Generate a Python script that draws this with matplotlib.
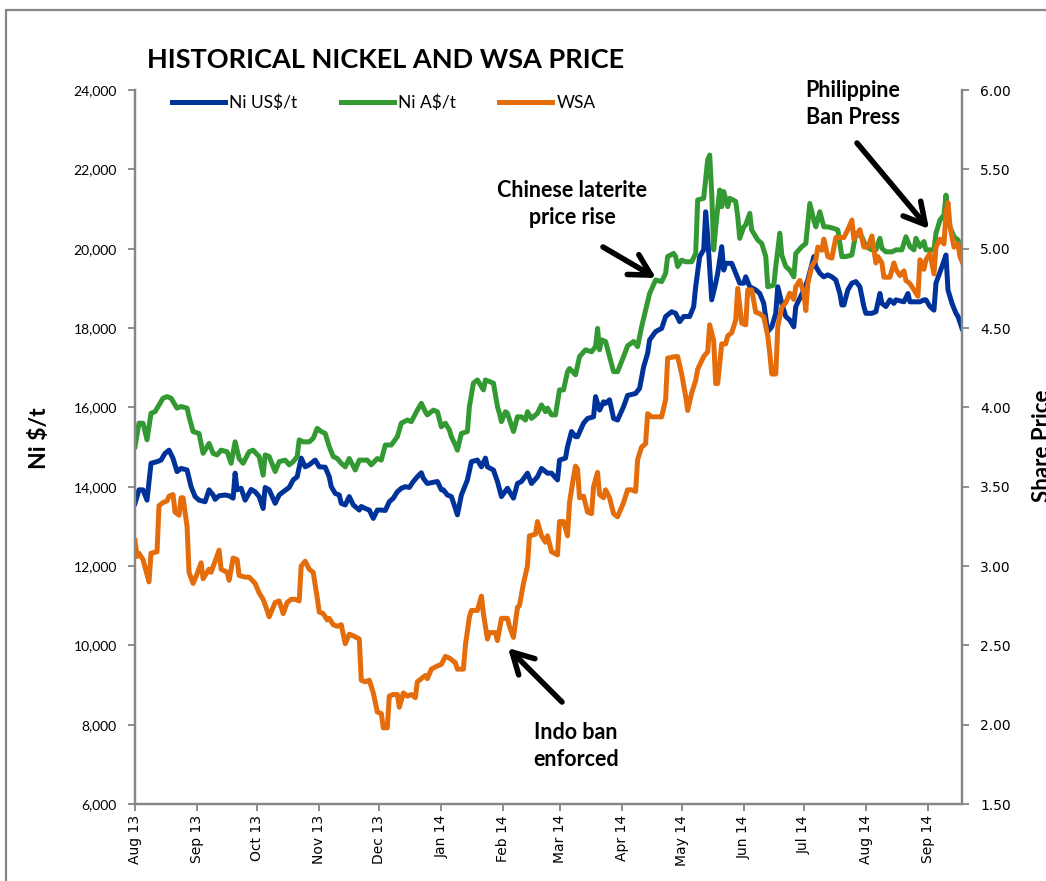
import matplotlib
matplotlib.use('Agg')
import matplotlib.pyplot as plt
import matplotlib.dates as mdates
import matplotlib.ticker as mticker
from matplotlib.patches import Rectangle
import numpy as np

start = np.datetime64('2013-08-01')

# Ni US$/t  (days since 1 Aug 2013, price)
usd_days = [0, 2, 4, 6, 8, 11, 13, 15, 17, 19, 21, 23, 26, 28, 30, 32, 35, 37, 39, 40,
            42, 45, 47, 49, 50, 51, 53, 55, 58, 60, 62, 64, 65, 67, 70, 72, 74, 77, 79, 81,
            83, 85, 87, 90, 92, 95, 97, 98, 100, 102, 103, 105, 107, 109, 112, 113, 115, 117, 119, 121,
            123, 125, 127, 129, 131, 133, 135, 137, 139, 141, 143, 144, 146, 148, 151, 153, 154, 156, 158, 160,
            161, 163, 166, 168, 171, 173, 175, 176, 179, 181, 183, 186, 189, 191, 193, 196, 198, 201, 203, 206,
            208, 211, 212, 215, 216, 218, 220, 221, 224, 226, 229, 230, 232, 234, 235, 237, 239, 241, 244, 246,
            250, 252, 254, 256, 257, 260, 263, 265, 268, 270, 272, 274, 277, 279, 280, 282, 284, 285, 286, 288,
            290, 291, 293, 294, 295, 298, 300, 302, 304, 305, 307, 310, 312, 314, 316, 318, 320, 321, 323, 325,
            327, 329, 330, 334, 336, 339, 340, 342, 344, 346, 348, 350, 352, 353, 354, 356, 358, 360, 362, 364,
            365, 368, 370, 372, 373, 375, 377, 379, 380, 384, 386, 387, 389, 392, 394, 395, 397, 399, 400, 403,
            405, 406, 408, 410, 411, 413]
usd_vals = [13580, 13920, 13920, 13660, 14590, 14630, 14670, 14840, 14920, 14710, 14380, 14460, 14420, 14000, 13750, 13660, 13620, 13920, 13790, 13680,
            13770, 13790, 13770, 13710, 14340, 13920, 13960, 13660, 13930, 13870, 13750, 13450, 13980, 13920, 13580, 13790, 13870, 13980, 14170, 14250,
            14720, 14500, 14550, 14670, 14500, 14490, 14250, 14000, 13830, 13790, 13580, 13540, 13750, 13540, 13410, 13500, 13450, 13410, 13200, 13410,
            13410, 13400, 13620, 13710, 13870, 13960, 14000, 13980, 14130, 14250, 14350, 14210, 14080, 14100, 14130, 13920, 13920, 13790, 13750, 13450,
            13290, 13790, 14170, 14630, 14670, 14500, 14720, 14500, 14420, 14130, 13750, 13960, 13710, 14080, 14130, 14340, 14080, 14250, 14460, 14340,
            14340, 14170, 14670, 14720, 15010, 15390, 15260, 15260, 15600, 15720, 15760, 16270, 15930, 16140, 16100, 16190, 15720, 15680, 16020, 16300,
            16350, 16480, 17020, 17360, 17700, 17910, 17990, 18290, 18410, 18370, 18160, 18290, 18290, 18540, 19040, 19800, 19970, 20930, 20300, 18710,
            19130, 19380, 20050, 19460, 19630, 19630, 19380, 19130, 19130, 19290, 19040, 18960, 18870, 18620, 17910, 18030, 18370, 19040, 18620, 18290,
            18200, 18030, 18540, 18960, 19210, 19800, 19550, 19380, 19290, 19340, 19290, 19210, 18870, 18580, 18580, 18960, 19130, 19170, 19040, 18540,
            18370, 18370, 18410, 18870, 18620, 18540, 18710, 18620, 18710, 18660, 18870, 18660, 18660, 18660, 18710, 18710, 18540, 18450, 19130, 19550,
            19840, 18960, 18620, 18370, 18290, 17990]

# Ni A$/t
aud_days = [0, 2, 4, 6, 8, 10, 12, 14, 16, 18, 21, 23, 26, 27, 29, 32, 34, 37, 39, 41,
            43, 46, 48, 50, 52, 54, 57, 59, 62, 64, 65, 67, 70, 72, 75, 77, 79, 81, 82, 84,
            87, 89, 91, 93, 95, 97, 99, 101, 103, 105, 107, 110, 112, 116, 118, 121, 123, 125, 128, 131,
            133, 136, 138, 141, 143, 145, 146, 149, 151, 153, 155, 157, 158, 160, 161, 163, 166, 167, 169, 171,
            174, 175, 177, 179, 181, 182, 183, 185, 186, 189, 191, 193, 195, 196, 198, 201, 203, 205, 206, 208,
            210, 212, 214, 216, 217, 220, 222, 225, 228, 230, 231, 232, 233, 235, 237, 239, 241, 244, 246, 249,
            251, 253, 255, 257, 260, 263, 265, 266, 269, 270, 271, 273, 275, 278, 280, 281, 284, 286, 287, 288,
            289, 290, 292, 293, 294, 296, 297, 300, 301, 302, 304, 305, 307, 308, 311, 313, 315, 316, 319, 320,
            322, 323, 325, 327, 329, 330, 333, 335, 337, 339, 340, 342, 344, 346, 349, 351, 353, 355, 358, 360,
            363, 365, 368, 370, 372, 373, 375, 378, 380, 383, 385, 387, 389, 390, 392, 394, 395, 397, 399, 400,
            402, 404, 405, 406, 407, 409, 411, 412, 414]
aud_vals = [15010, 15600, 15600, 15180, 15850, 15890, 16060, 16230, 16270, 16230, 15980, 16020, 15980, 15760, 15390, 15340, 14840, 15090, 14840, 14800,
            14920, 14880, 14590, 15130, 14710, 14590, 14880, 14920, 14760, 14290, 14800, 14760, 14380, 14630, 14670, 14550, 14630, 14760, 15180, 15130,
            15130, 15220, 15470, 15390, 15340, 15010, 14760, 14710, 14590, 14500, 14710, 14420, 14670, 14670, 14550, 14710, 14670, 15050, 15050, 15260,
            15600, 15680, 15640, 15930, 16100, 15890, 15810, 15930, 15890, 15510, 15600, 15430, 15260, 15050, 14920, 15340, 15390, 16020, 16610, 16690,
            16440, 16690, 16650, 16610, 16020, 15850, 15640, 15890, 15850, 15390, 15760, 15760, 15680, 15890, 15720, 15850, 16060, 15890, 15980, 15810,
            15810, 16440, 16440, 16900, 16980, 16820, 17280, 17450, 17400, 17530, 17990, 17450, 17700, 17660, 17280, 16900, 16900, 17280, 17550, 17660,
            17530, 18030, 18450, 18870, 19210, 19170, 19380, 19800, 19880, 19800, 19550, 19710, 19670, 19670, 19880, 21230, 21270, 22240, 22360, 21400,
            19970, 20550, 21480, 21060, 21440, 21060, 21270, 21190, 20810, 20260, 20550, 20600, 20890, 20470, 20220, 20130, 19800, 19040, 19080, 19550,
            20390, 19840, 19550, 19460, 19290, 19880, 20050, 20130, 21140, 20720, 20550, 20930, 20550, 20550, 20510, 20470, 19800, 19800, 19840, 20390,
            20300, 20050, 19970, 19970, 20260, 20010, 19920, 19920, 19970, 19970, 20300, 20050, 19970, 20260, 20050, 20180, 19970, 19970, 19970, 20390,
            20720, 20850, 21350, 20810, 20550, 20300, 20220, 20050, 20010]

# WSA share price
wsa_days = [0, 1, 2, 4, 7, 8, 11, 12, 14, 16, 17, 19, 20, 22, 23, 24, 26, 27, 29, 31,
            33, 34, 37, 38, 40, 42, 43, 46, 47, 49, 51, 52, 55, 57, 60, 62, 64, 66, 67, 70,
            72, 74, 76, 78, 80, 82, 83, 85, 87, 89, 91, 92, 94, 96, 97, 99, 101, 103, 105, 107,
            109, 112, 113, 115, 117, 119, 121, 123, 124, 126, 127, 129, 131, 132, 134, 136, 138, 140, 141, 143,
            145, 146, 148, 151, 153, 155, 157, 160, 161, 164, 165, 167, 168, 171, 173, 174, 176, 177, 180, 181,
            183, 186, 187, 189, 191, 192, 194, 196, 197, 200, 201, 203, 205, 206, 208, 211, 212, 214, 216, 217,
            219, 220, 221, 222, 224, 226, 228, 229, 231, 232, 234, 235, 237, 239, 241, 244, 246, 248, 250, 251,
            253, 255, 256, 258, 260, 263, 265, 266, 270, 271, 273, 275, 276, 278, 280, 281, 284, 286, 287, 289,
            290, 291, 293, 295, 296, 298, 300, 301, 303, 305, 306, 308, 310, 312, 314, 316, 317, 318, 320, 321,
            323, 325, 327, 329, 330, 332, 334, 335, 336, 338, 340, 341, 343, 344, 346, 348, 350, 352, 354, 356,
            358, 359, 360, 362, 364, 366, 368, 370, 371, 373, 374, 377, 379, 380, 382, 384, 385, 387, 389, 391,
            392, 394, 395, 397, 399, 400, 402, 404, 405, 406, 407, 409, 411, 412, 414]
wsa_vals = [3.16, 3.06, 3.08, 3.04, 2.90, 3.08, 3.09, 3.38, 3.40, 3.41, 3.44, 3.45, 3.34, 3.32, 3.43, 3.43, 3.25, 2.96, 2.89, 2.95,
            3.02, 2.92, 2.98, 2.96, 3.03, 3.10, 2.98, 2.96, 2.91, 3.05, 3.04, 2.94, 2.93, 2.93, 2.89, 2.83, 2.79, 2.72, 2.68, 2.77,
            2.78, 2.70, 2.77, 2.79, 2.79, 2.78, 3.00, 3.03, 2.98, 2.96, 2.80, 2.71, 2.70, 2.66, 2.67, 2.63, 2.62, 2.63, 2.51, 2.57,
            2.56, 2.54, 2.28, 2.27, 2.28, 2.20, 2.08, 2.07, 1.98, 1.98, 2.18, 2.19, 2.19, 2.11, 2.20, 2.18, 2.19, 2.17, 2.27, 2.29,
            2.31, 2.29, 2.35, 2.37, 2.38, 2.43, 2.42, 2.39, 2.35, 2.35, 2.50, 2.68, 2.72, 2.72, 2.81, 2.70, 2.54, 2.58, 2.58, 2.53,
            2.67, 2.67, 2.62, 2.55, 2.74, 2.75, 2.89, 3.00, 3.19, 3.20, 3.28, 3.19, 3.15, 3.19, 3.09, 3.07, 3.28, 3.28, 3.19, 3.40,
            3.56, 3.63, 3.61, 3.43, 3.44, 3.34, 3.33, 3.50, 3.59, 3.45, 3.43, 3.48, 3.43, 3.33, 3.31, 3.40, 3.48, 3.48, 3.47, 3.67,
            3.75, 3.77, 3.96, 3.94, 3.94, 3.94, 4.05, 4.31, 4.32, 4.32, 4.21, 4.07, 3.98, 4.09, 4.17, 4.24, 4.32, 4.35, 4.52, 4.42,
            4.15, 4.15, 4.40, 4.40, 4.45, 4.47, 4.55, 4.75, 4.53, 4.52, 4.74, 4.74, 4.60, 4.59, 4.57, 4.45, 4.34, 4.21, 4.21, 4.51,
            4.63, 4.66, 4.72, 4.68, 4.76, 4.80, 4.72, 4.61, 4.78, 4.89, 4.93, 5.01, 4.99, 5.06, 4.95, 4.94, 5.07, 5.07, 5.07, 5.12,
            5.18, 5.06, 5.08, 5.12, 5.01, 5.01, 5.08, 4.91, 4.95, 4.91, 4.82, 4.82, 4.91, 4.87, 4.83, 4.86, 4.80, 4.78, 4.74, 4.70,
            4.93, 4.87, 4.93, 4.97, 4.84, 5.01, 5.06, 5.03, 5.23, 5.29, 5.14, 5.01, 5.03, 4.95, 4.89]

usd_dates = start + np.array(usd_days)
aud_dates = start + np.array(aud_days)
wsa_dates = start + np.array(wsa_days)

blue = '#003399'
green = '#339933'
orange = '#E46C0A'
grey = '#868686'
W, H = 1046, 881

fig = plt.figure(figsize=(W / 100, H / 100), dpi=100)
ax = fig.add_axes([135 / W, 1 - 804 / H, 827 / W, 714 / H])
ax2 = ax.twinx()

l1, = ax.plot(usd_dates, usd_vals, color=blue, lw=3.6, solid_joinstyle='round', label='Ni US$/t')
l2, = ax.plot(aud_dates, aud_vals, color=green, lw=3.6, solid_joinstyle='round', label='Ni A$/t')
l3, = ax2.plot(wsa_dates, wsa_vals, color=orange, lw=3.6, solid_joinstyle='round', label='WSA')

ax.set_xlim(np.datetime64('2013-08-01'), np.datetime64('2014-09-18'))
ax.set_ylim(6000, 24000)
ax2.set_ylim(1.5, 6.0)
ax.yaxis.set_major_locator(mticker.MultipleLocator(2000))
ax.yaxis.set_major_formatter(mticker.FuncFormatter(lambda v, p: f'{v:,.0f}'))
ax2.yaxis.set_major_locator(mticker.MultipleLocator(0.5))
ax2.yaxis.set_major_formatter(mticker.FormatStrFormatter('%.2f'))
ax.xaxis.set_major_locator(mdates.MonthLocator())
ax.xaxis.set_major_formatter(mdates.DateFormatter('%b %y'))

for a in (ax, ax2):
    a.spines['top'].set_visible(False)
    for s in ('left', 'right', 'bottom'):
        a.spines[s].set_color(grey)
        a.spines[s].set_linewidth(1.6)
ax.tick_params(axis='y', direction='out', length=5, width=1.3, color=grey, pad=8,
               labelsize=10, labelfontfamily='Lato')
ax2.tick_params(axis='y', direction='out', length=5, width=1.3, color=grey, pad=8,
                labelsize=10)
ax.tick_params(axis='x', direction='out', length=5, width=1.3, color=grey, pad=3,
               labelsize=10, labelrotation=90)

fig.text(147 / W, 1 - 60 / H, 'HISTORICAL NICKEL AND WSA PRICE', family='Lato',
         weight='bold', fontsize=19.5, ha='left', va='center')
fig.text(40 / W, 1 - 438 / H, 'Ni $/t', family='Lato', weight='bold', fontsize=16.5,
         rotation=90, ha='center', va='center')
fig.text(1032 / W, 1 - 446 / H, 'Share Price', family='Lato', weight='bold', fontsize=16,
         rotation=90, ha='left', va='center')

fig.legend(handles=[l1, l2, l3], loc='center left', bbox_to_anchor=(172 / W, 1 - 103 / H),
           ncol=3, frameon=False, borderpad=0, borderaxespad=0, handlelength=3.05,
           handletextpad=0.25, columnspacing=2.5, prop={'family': 'Lato', 'size': 12.5})

notes = [('Chinese laterite\nprice rise', (572, 204), (603, 247), (656, 278)),
         ('Philippine\nBan Press', (853, 104), (857, 143), (929, 229)),
         ('Indo ban\nenforced', (576, 746), (562, 702), (508, 648))]
for txt, (tx, ty), (ax0, ay0), (ax1, ay1) in notes:
    fig.text(tx / W, 1 - ty / H, txt, family='Lato', weight='bold', fontsize=15.5,
             ha='center', va='center', linespacing=1.3)
    ax.annotate('', xy=(ax1 / W, 1 - ay1 / H), xytext=(ax0 / W, 1 - ay0 / H),
                xycoords='figure fraction', textcoords='figure fraction',
                arrowprops=dict(arrowstyle='->,head_length=1.0,head_width=0.55', lw=4,
                                color='black', mutation_scale=15, shrinkA=0, shrinkB=0))

fig.add_artist(Rectangle((6 / W, -0.2), 1.5, 1.2 - 10 / H, transform=fig.transFigure,
                         fill=False, edgecolor=grey, lw=1.6, clip_on=False))

fig.savefig('out.png', dpi=100)
